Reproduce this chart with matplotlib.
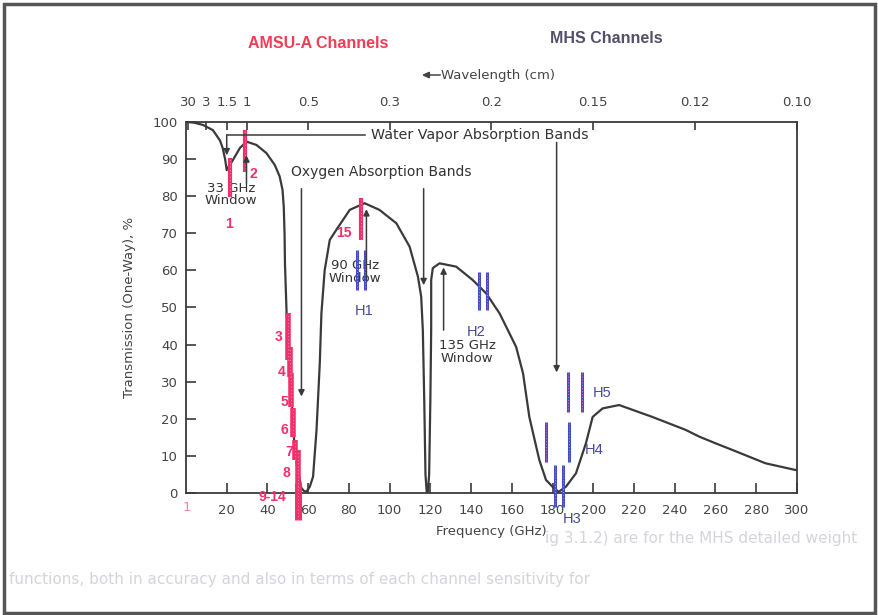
import numpy as np
import matplotlib
matplotlib.use('Agg')
import matplotlib.pyplot as plt
from matplotlib.patches import Rectangle

# atmospheric transmission curve (GHz, %)
freq = [0, 4, 8.3, 13.2, 16.7, 18, 19.2, 20, 21, 23, 26.5, 29.7, 34.6, 39.5, 43.6, 46,
        47.4, 48, 48.4, 48.6, 49.4, 51, 52.6, 54.3, 56.7, 58, 59.2, 60.8, 62.4, 64.1,
        65.7, 66.5, 68.1, 70.6, 73.8, 80.4, 87.7, 95, 103.3, 109.8, 113.9, 115.5, 116.3,
        117, 117.6, 118.2, 118.8, 119.4, 120, 120.4, 120.4, 121.2, 124.5, 132.7, 140.8,
        147.4, 154, 162.1, 165.5, 168.6, 173.5, 176.8, 180, 183, 186.6, 191.5, 196.4,
        199.7, 204.6, 212.7, 229, 245.4, 252, 260, 268.3, 284.6, 299.3, 300]
trans = [100, 99.8, 99.2, 97.8, 95, 93, 90, 87, 88, 89.7, 93, 94.7, 93.8, 91.6, 88.4, 85.3,
         81.7, 77.2, 70, 61.9, 48.5, 35, 17, 8, 1.3, 0.5, 0.4, 1.7, 4.4, 17,
         35, 48.4, 60, 68.2, 70.9, 76.3, 78.1, 76.3, 72.7, 66.4, 58.3, 52.9, 43.9,
         25, 5, 0.3, 0.3, 5, 25, 43.9, 57.4, 60.6, 61.9, 61, 57.4,
         53.8, 48.4, 39.4, 32.3, 20.5, 8.9, 3.5, 1.7, 0.3, 1.7, 5.3, 13.4,
         20.5, 22.8, 23.7, 20.5, 17, 15.2, 13.4, 11.6, 8, 6.2, 6.2]

# AMSU-A channels: label, frequency (GHz), bar bottom / top (%)
amsu_names = ['1', '2', '15', '3', '4', '5', '6', '7', '8', '9-14']
amsu_freq = [21.6, 28.9, 86.1, 49.9, 51.0, 51.8, 52.6, 53.4, 55.0, 55.0]
amsu_lo = [79.8, 86.5, 68.2, 35.8, 31.3, 23.2, 15.1, 8.9, 1.6, -7.3]
amsu_hi = [90.3, 97.8, 79.5, 48.5, 39.4, 32.3, 22.9, 14.3, 11.6, 2.7]

# MHS channels: label, pair of frequencies (GHz), bar bottom / top (%)
mhs_names = ['H1', 'H2', 'H3', 'H4', 'H5']
mhs_f1 = [83.8, 143.8, 181.4, 176.8, 187.4]
mhs_f2 = [87.7, 147.7, 185.0, 188.2, 194.4]
mhs_lo = [54.7, 49.3, -3.7, 8.4, 21.9]
mhs_hi = [65.5, 59.6, 7.5, 19.2, 32.7]

x_ticks = list(range(20, 301, 20))
y_ticks = list(range(0, 101, 10))
wl_labels = ['30', '3', '1.5', '1', '0.5', '0.3', '0.2', '0.15', '0.12', '0.10']
wl_values = [30, 3, 1.5, 1, 0.5, 0.3, 0.2, 0.15, 0.12, 0.10]

ink = '#3a3a3a'
pink = '#f0306a'
blue = '#4a4ac0'

fig = plt.figure(figsize=(8.79, 6.15), dpi=100)
ax = fig.add_axes([0.2116, 0.1984, 0.695, 0.6033])
ax.plot(freq, trans, color=ink, lw=1.6, zorder=3)
ax.set_xlim(0, 300)
ax.set_ylim(0, 100)
for s in ax.spines.values():
    s.set_color(ink)
    s.set_linewidth(1.3)

ax.set_xticks(x_ticks)
ax.set_yticks(y_ticks)
ax.set_yticklabels([str(v) for v in y_ticks])
ax.tick_params(axis='both', direction='in', length=7, width=1.2, colors=ink,
               labelsize=9.5, labelcolor='#444444')
ax.tick_params(axis='x', pad=8)
ax.tick_params(axis='y', pad=6)
ax.set_xlabel('Frequency (GHz)', fontsize=9.5, color='#444444', labelpad=6)
ax.set_ylabel('Transmission (One-Way), %', fontsize=9.5, color='#444444', labelpad=12)
ax.text(0.5, -4, '1', color='#f08aa0', fontsize=9.5, ha='center', va='center', clip_on=False)

# wavelength axis on top
top = ax.twiny()
top.set_xlim(0, 300)
top.set_xticks([30.0 / w for w in wl_values])
top.set_xticklabels(wl_labels)
top.tick_params(axis='x', direction='in', length=6, width=1.2, colors=ink,
                labelsize=9.5, labelcolor='#444444', pad=9)
for s in top.spines.values():
    s.set_visible(False)
fig.text(0.5017, 0.878, 'Wavelength (cm)', fontsize=9.5, color='#444444', ha='left', va='center')
fig.add_artist(plt.Line2D([0.4835, 0.5005], [0.878, 0.878], color='#444444', lw=1.1))
fig.add_artist(plt.Polygon([[0.4815, 0.878], [0.4885, 0.8825], [0.4885, 0.8735]],
                           closed=True, color='#444444'))

# AMSU-A channels
for name, f, lo, hi in zip(amsu_names, amsu_freq, amsu_lo, amsu_hi):
    w = 5 if name == '9-14' else (3 if name in ['1', '2', '15'] else 4)
    ax.plot([f, f], [lo, hi], color=pink, lw=w, solid_capstyle='butt', zorder=4, clip_on=False)
    ax.plot([f, f], [lo, hi], color='white', lw=0.6, ls=(0, (1, 3)), zorder=5, clip_on=False, alpha=0.6)

amsu_lab = {'1': (21.0, 72.5), '2': (33.0, 86.0), '15': (77.5, 70.0), '3': (45.5, 42.0),
            '4': (47.0, 32.5), '5': (48.5, 24.5), '6': (48.5, 17.0), '7': (50.5, 11.0),
            '8': (49.5, 5.5), '9-14': (42.5, -1.0)}
for name, (x, y) in amsu_lab.items():
    ax.text(x, y, name, color=pink, fontsize=10, fontweight='bold',
            ha='center', va='center', family='Liberation Sans', zorder=6, clip_on=False)

# MHS channels
for name, f1, f2, lo, hi in zip(mhs_names, mhs_f1, mhs_f2, mhs_lo, mhs_hi):
    for f in (f1, f2):
        ax.plot([f, f], [lo, hi], color=blue, lw=2.2, solid_capstyle='butt', zorder=4, clip_on=False)
        ax.plot([f, f], [lo, hi], color='#f070b0', lw=0.7, ls=(0, (1, 2)), zorder=5, clip_on=False)

mhs_lab = {'H1': (87.5, 49.0), 'H2': (142.5, 43.5), 'H3': (189.5, -7.0),
           'H4': (200.5, 11.7), 'H5': (204.5, 27.0)}
for name, (x, y) in mhs_lab.items():
    ax.text(x, y, name, color='#4848a0', fontsize=10.5, ha='center', va='center',
            family='Liberation Sans', zorder=6, clip_on=False)

# annotations
arrow = dict(arrowstyle='-|>', color=ink, lw=1.1, mutation_scale=9, shrinkA=0, shrinkB=0)
ax.annotate('', xy=(20, 91), xytext=(20, 96.5), arrowprops=arrow, zorder=6)
ax.plot([20, 88], [96.5, 96.5], color=ink, lw=1.1, zorder=6)
ax.text(91, 96.5, 'Water Vapor Absorption Bands', fontsize=10.3, color='#333333', va='center')
ax.annotate('', xy=(182, 32.5), xytext=(182, 94.5), arrowprops=arrow, zorder=6)

ax.text(96, 86.5, 'Oxygen Absorption Bands', fontsize=10, color='#333333', ha='center', va='center')
ax.annotate('', xy=(56.7, 26), xytext=(56.7, 82), arrowprops=arrow, zorder=6)
ax.annotate('', xy=(116.7, 56), xytext=(116.7, 82), arrowprops=arrow, zorder=6)

ax.text(22, 80.5, '33 GHz\nWindow', fontsize=9.5, color='#333333', ha='center', va='center',
        linespacing=0.95, zorder=2)
ax.annotate('', xy=(29.7, 91), xytext=(29.7, 83.5), arrowprops=arrow, zorder=6)
ax.text(83, 59.5, '90 GHz\nWindow', fontsize=9.5, color='#333333', ha='center', va='center',
        linespacing=0.95, zorder=2)
ax.annotate('', xy=(88.6, 76.5), xytext=(88.6, 57.4), arrowprops=arrow, zorder=6)
ax.text(138, 38, '135 GHz\nWindow', fontsize=9.5, color='#333333', ha='center', va='center',
        linespacing=0.95)
ax.annotate('', xy=(126.5, 60.8), xytext=(126.5, 43.9), arrowprops=arrow, zorder=6)

# headers
fig.text(0.362, 0.929, 'AMSU-A Channels', color='#f03c55', fontsize=11.5, fontweight='bold',
         family='Liberation Sans', ha='center', va='center')
fig.text(0.690, 0.938, 'MHS Channels', color='#55506a', fontsize=11.5, fontweight='bold',
         family='Liberation Sans', ha='center', va='center')

# faint page text from the scan
fig.text(0.62, 0.125, 'ig 3.1.2) are for the MHS detailed weight', fontsize=11,
         color='#d4d4dc', ha='left', va='center')
fig.text(0.01, 0.058, 'functions, both in accuracy and also in terms of each channel sensitivity for',
         fontsize=11, color='#d4d4dc', ha='left', va='center')

# scanned page border
fig.patches.append(Rectangle((0.004, 0.004), 0.992, 0.989, fill=False, lw=2.5,
                             ec='#555555', transform=fig.transFigure, figure=fig))

fig.savefig('out.png', dpi=100)
